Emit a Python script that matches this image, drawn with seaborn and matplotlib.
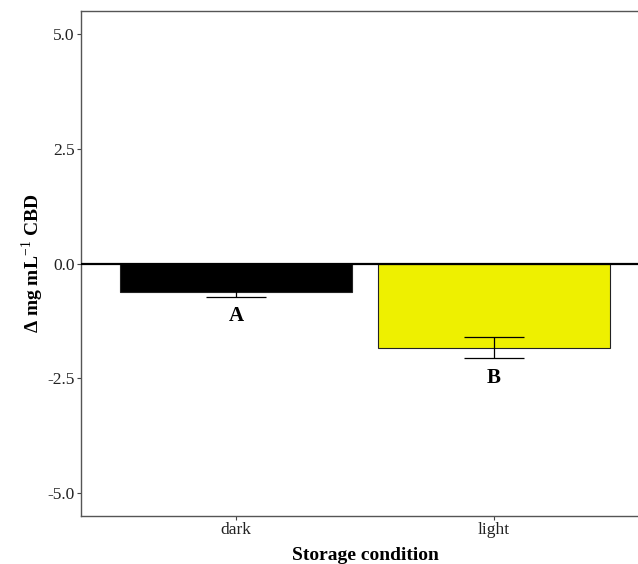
import numpy as np
import pandas as pd
import matplotlib
matplotlib.use("Agg")
import matplotlib.pyplot as plt
import seaborn as sns

# data
conditions = ["dark", "light"]
means = [-0.61, -1.83]
se = [0.11, 0.22]
letters = ["A", "B"]
letter_y = [-1.15, -2.5]
bar_colors = ["#000000", "#EEF000"]
yticks = [-5.0, -2.5, 0.0, 2.5, 5.0]

sns.set_style("white")
plt.rcParams['font.family'] = ['Liberation Serif', 'DejaVu Serif']
plt.rcParams['mathtext.fontset'] = 'custom'
plt.rcParams['mathtext.rm'] = 'Liberation Serif'
plt.rcParams['mathtext.bf'] = 'Liberation Serif:bold'
plt.rcParams['text.color'] = 'black'
plt.rcParams['axes.labelcolor'] = 'black'

df = pd.DataFrame({"condition": conditions, "delta": means})

fig = plt.figure(figsize=(6.38, 5.64), dpi=100)
ax = fig.add_axes([81/638, 48/564, 568/638, 505/564])

sns.barplot(data=df, x="condition", y="delta", hue="condition",
            palette=bar_colors, saturation=1, width=0.9, errorbar=None, legend=False,
            edgecolor="#222222", linewidth=0.8, ax=ax, zorder=2)

ax.errorbar(x=np.arange(len(conditions)), y=means, yerr=se, fmt="none",
            ecolor="black", elinewidth=0.9, capsize=21.6, capthick=0.9, zorder=3)
ax.axhline(0, color="black", lw=1.6, zorder=4)

for i, (lab, yy) in enumerate(zip(letters, letter_y)):
    ax.text(i, yy, lab, ha="center", va="center", fontsize=15, fontweight="bold")

ax.set_xlim(-0.6, 1.6)
ax.set_ylim(-5.5, 5.5)
ax.set_yticks(yticks)
ax.set_yticklabels([f"{v:.1f}" for v in yticks])
ax.tick_params(axis="both", labelsize=12.5, length=3, width=0.8, color="#444444",
               labelcolor="#222222", left=True, bottom=True, pad=1.5)

for s in ["left", "bottom", "top"]:
    ax.spines[s].set_color("#555555")
    ax.spines[s].set_linewidth(1.0)
ax.spines["right"].set_visible(False)

ax.set_xlabel("Storage condition", fontsize=14, fontweight="bold", labelpad=6)
ax.set_ylabel(r"Δ mg mL$^{-1}$ CBD", fontsize=14, fontweight="bold", labelpad=1)

fig.savefig("out.png", dpi=100)
